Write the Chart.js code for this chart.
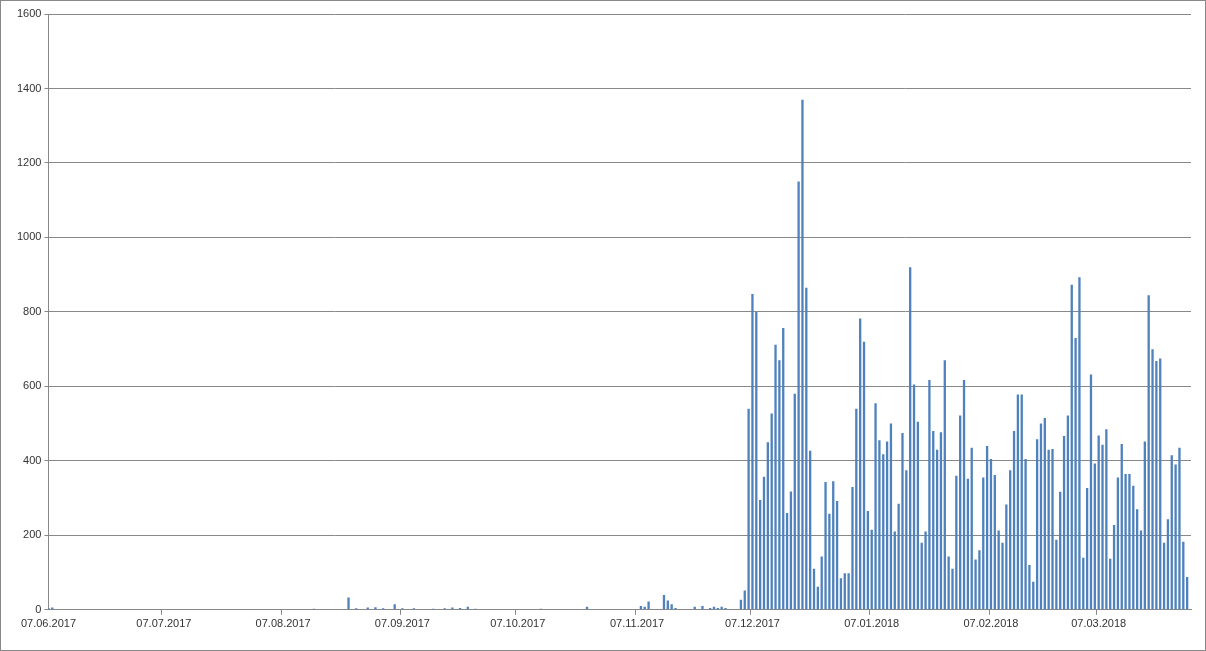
<!DOCTYPE html>
<html>
<head>
<meta charset="utf-8">
<script src="https://cdn.jsdelivr.net/npm/chart.js@4"></script>
<style>
  body { margin: 0; background: #fff; }
  #wrap { width: 1204px; height: 649px; border: 1px solid #888; }
</style>
</head>
<body>
<div id="wrap"><canvas id="myChart" width="1204" height="649"></canvas></div>
<script>
const startDate = new Date(2017, 5, 7);
const dayCount = 298;

// sparse early values: [day index from 07.06.2017, value]
const earlyValues = [
    [0, 5], [1, 6], [69, 3], [78, 33], [80, 4], [83, 6], [85, 7], [87, 4], [90, 15], [92, 4],
    [95, 4], [100, 3], [103, 4], [105, 6], [107, 5], [109, 8], [111, 3], [128, 3], [140, 8],
    [154, 10], [155, 8], [156, 22], [160, 40], [161, 25], [162, 15], [163, 5], [168, 8],
    [170, 10], [172, 5], [173, 8], [174, 5], [175, 8], [176, 5]
];

// daily values from 04.12.2017
const lateStart = 180;
const lateValues = [
    27, 52, 540, 848, 800, 295, 357, 450, 527, 712,
    670, 757, 260, 318, 580, 1150, 1370, 865, 427, 110,
    62, 143, 343, 258, 345, 292, 85, 98, 98, 330,
    540, 782, 720, 265, 215, 555, 455, 418, 452, 500,
    210, 285, 475, 375, 920, 605, 505, 180, 210, 617,
    480, 430, 477, 670, 143, 110, 360, 522, 617, 352,
    435, 135, 160, 355, 440, 405, 362, 213, 180, 283,
    375, 480, 578, 578, 405, 120, 75, 458, 500, 515,
    430, 432, 188, 317, 467, 522, 873, 730, 893, 140,
    327, 632, 393, 468, 443, 485, 137, 228, 355, 445,
    365, 365, 333, 270, 213, 452, 845, 700, 668, 675,
    180, 243, 415, 390, 435, 183, 88
];

const labels = [];
const days = [];
for (let i = 0; i < dayCount; i++) {
    let d = new Date(startDate);
    d.setDate(d.getDate() + i);
    days.push(d.getDate());
    labels.push(String(d.getDate()).padStart(2, '0') + '.' + String(d.getMonth() + 1).padStart(2, '0') + '.' + d.getFullYear());
}
const values = new Array(dayCount).fill(0);
earlyValues.forEach(([i, v]) => { values[i] = v; });
lateValues.forEach((v, i) => { values[lateStart + i] = v; });

let ctx = document.getElementById('myChart').getContext('2d');
new Chart(ctx, {
    type: 'bar',
    data: {
        labels: labels,
        datasets: [{
            data: values,
            backgroundColor: '#4F81BD',
            barPercentage: 0.6,
            categoryPercentage: 1
        }]
    },
    options: {
        responsive: false,
        animation: false,
        layout: { padding: { top: 13, right: 14, left: 13, bottom: 16 } },
        plugins: { legend: { display: false }, tooltip: { enabled: false } },
        scales: {
            x: {
                offset: false,
                grid: {
                    drawOnChartArea: false,
                    tickLength: 5,
                    color: (c) => days[c.index] === 7 ? '#888' : 'rgba(0,0,0,0)'
                },
                border: { color: '#888' },
                ticks: {
                    autoSkip: false,
                    maxRotation: 0,
                    color: '#333',
                    font: { family: 'Liberation Sans, Arial', size: 11 },
                    callback: (v, i) => days[i] === 7 ? labels[i] : ''
                }
            },
            y: {
                min: 0,
                max: 1600,
                ticks: { stepSize: 200, color: '#333', font: { family: 'Liberation Sans, Arial', size: 11 }, callback: (v) => String(v) },
                grid: { color: '#888', tickLength: 4 },
                border: { color: '#888' }
            }
        }
    }
});
</script>
</body>
</html>
